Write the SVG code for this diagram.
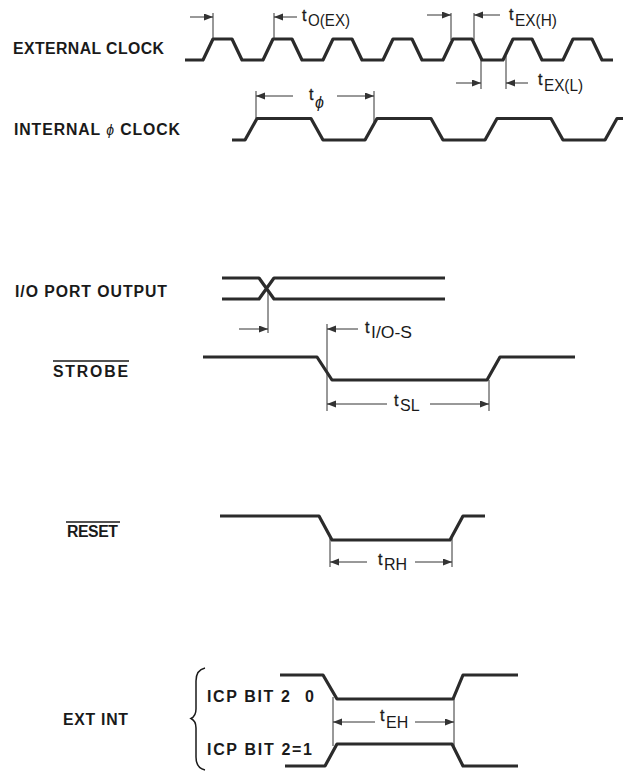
<svg xmlns="http://www.w3.org/2000/svg" width="623" height="772" viewBox="0 0 623 772">
<style>
.bg{fill:#fff}
.lbl{font-family:"Liberation Sans",Arial,sans-serif;font-weight:bold;font-size:15.8px;fill:#1a1a1a}
.sm{font-family:"Liberation Sans",Arial,sans-serif;font-weight:bold;font-size:16px;fill:#1a1a1a}
.t{font-family:"Liberation Sans",Arial,sans-serif;font-size:16px;fill:#1a1a1a;stroke:#1a1a1a;stroke-width:0.3}
.sub{font-family:"Liberation Sans",Arial,sans-serif;font-size:16px;fill:#1a1a1a}
.wave{fill:none;stroke:#2b2b2b;stroke-width:3.2;stroke-linejoin:round;stroke-linecap:butt}
.dim{fill:none;stroke:#333;stroke-width:1}
.arr{fill:none;stroke:#333;stroke-width:1;marker-end:url(#ah)}
.ov{stroke:#1a1a1a;stroke-width:1.3}
</style>
<defs>
<marker id="ah" markerUnits="userSpaceOnUse" markerWidth="10" markerHeight="8" refX="9" refY="3.5" orient="auto">
<path d="M0,0 L9,3.5 L0,7 z" fill="#333"/>
</marker>
</defs>
<rect class="bg" x="0" y="0" width="623" height="772"/>

<g id="external-clock">
<text class="lbl" x="13" y="53.5" textLength="151" lengthAdjust="spacing">EXTERNAL CLOCK</text>
<polyline class="wave" points="185,60 203,60 213,39 232,39 242,60 263,60 273,39 292,39 302,60 323,60 333,39 352,39 362,60 383,60 393,39 412,39 422,60 443,60 453,39 472,39 482,60 503,60 513,39 532,39 542,60 563,60 573,39 592,39 602,60 613,60"/>
</g>

<g id="internal-clock">
<text class="lbl" x="14" y="135" textLength="166" lengthAdjust="spacing">INTERNAL <tspan font-weight="normal" font-style="italic" font-size="14">ϕ</tspan> CLOCK</text>
<polyline class="wave" points="232,140 245,140 257,118.5 311,118.5 323,140 365,140 377,118.5 431,118.5 443,140 485,140 497,118.5 551,118.5 563,140 605,140 617,118.5 623,118.5"/>
</g>

<g id="io-port-output">
<text class="lbl" x="15" y="297" textLength="152" lengthAdjust="spacing">I/O PORT OUTPUT</text>
<path class="wave" d="M222,278 L259,278 L274,299 L445,299 M222,299 L259,299 L274,278 L445,278"/>
</g>

<g id="strobe">
<text class="lbl" x="53" y="377" textLength="75" lengthAdjust="spacing">STROBE</text>
<line class="ov" x1="53" y1="361" x2="129" y2="361"/>
<polyline class="wave" points="203,357 317,357 332,380 487,380 500,357 575,357"/>
</g>

<g id="reset">
<text class="lbl" x="67" y="537" textLength="51" lengthAdjust="spacing">RESET</text>
<line class="ov" x1="66" y1="522" x2="120" y2="522"/>
<polyline class="wave" points="220,516 319,516 332,540 450,540 463,516 485,516"/>
</g>

<g id="ext-int">
<text class="lbl" x="63" y="725" textLength="65" lengthAdjust="spacing">EXT INT</text>
<path d="M205,668 Q196,670 196,681 L196,709 Q196,716 191,718.5 Q196,721 196,728 L196,757 Q196,768 205,770" fill="none" stroke="#1a1a1a" stroke-width="1.5"/>
<text class="sm" x="207" y="702" textLength="83" lengthAdjust="spacing">ICP BIT 2</text>
<text class="sm" x="305" y="702">0</text>
<text class="sm" x="207" y="755" textLength="105" lengthAdjust="spacing">ICP BIT 2=1</text>
<polyline class="wave" points="280,675 323,675 337,699 453,699 463,675 518,675"/>
<polyline class="wave" points="285,766 325,766 337,744 452,744 463,766 518,766"/>
</g>

<g id="connectors">
<line class="dim" x1="213" y1="13" x2="213" y2="40"/>
<line class="arr" x1="190" y1="17" x2="213" y2="17"/>
<line class="dim" x1="274" y1="13" x2="274" y2="40"/>
<line class="arr" x1="297" y1="17" x2="274" y2="17"/>
<text class="t" x="302" y="21">t</text><text class="sub" x="308" y="26" textLength="42" lengthAdjust="spacingAndGlyphs">O(EX)</text>

<line class="dim" x1="451" y1="13" x2="451" y2="40"/>
<line class="arr" x1="427" y1="15" x2="451" y2="15"/>
<line class="dim" x1="474" y1="13" x2="474" y2="40"/>
<line class="arr" x1="500" y1="15" x2="474" y2="15"/>
<text class="t" x="509" y="20">t</text><text class="sub" x="515" y="25.5" textLength="42" lengthAdjust="spacingAndGlyphs">EX(H)</text>

<line class="dim" x1="481" y1="60" x2="481" y2="89"/>
<line class="arr" x1="456" y1="83" x2="481" y2="83"/>
<line class="dim" x1="506" y1="56" x2="506" y2="89"/>
<line class="arr" x1="528" y1="83" x2="506" y2="83"/>
<text class="t" x="538" y="85">t</text><text class="sub" x="544" y="90.5" textLength="39" lengthAdjust="spacingAndGlyphs">EX(L)</text>

<line class="dim" x1="256" y1="91" x2="256" y2="118"/>
<line class="dim" x1="374" y1="91" x2="374" y2="124"/>
<line class="arr" x1="293" y1="96" x2="256" y2="96"/>
<line class="arr" x1="337" y1="96" x2="374" y2="96"/>
<text class="t" x="309" y="100">t</text><text class="sub" x="315" y="108" font-style="italic" font-size="15">ϕ</text>

<line class="dim" x1="268" y1="291" x2="268" y2="333"/>
<line class="arr" x1="239" y1="329" x2="268" y2="329"/>
<line class="dim" x1="327" y1="324" x2="327" y2="411"/>
<line class="arr" x1="358" y1="329" x2="327" y2="329"/>
<text class="t" x="365" y="333">t</text><text class="sub" x="371" y="337.5" textLength="41" lengthAdjust="spacingAndGlyphs">I/O-S</text>
<line class="dim" x1="489" y1="380" x2="489" y2="411"/>
<line class="arr" x1="387" y1="404" x2="327" y2="404"/>
<line class="arr" x1="430" y1="404" x2="489" y2="404"/>
<text class="t" x="394" y="406">t</text><text class="sub" x="400" y="410.5">SL</text>

<line class="dim" x1="330" y1="536" x2="330" y2="567"/>
<line class="dim" x1="452" y1="536" x2="452" y2="567"/>
<line class="arr" x1="367" y1="562" x2="330" y2="562"/>
<line class="arr" x1="415" y1="562" x2="452" y2="562"/>
<text class="t" x="378" y="565">t</text><text class="sub" x="384" y="569.5">RH</text>

<line class="dim" x1="333" y1="697" x2="333" y2="746"/>
<line class="dim" x1="454" y1="697" x2="454" y2="746"/>
<line class="arr" x1="375" y1="722" x2="333" y2="722"/>
<line class="arr" x1="415" y1="722" x2="454" y2="722"/>
<text class="t" x="380" y="721">t</text><text class="sub" x="386" y="727.5">EH</text>
</g>
</svg>
